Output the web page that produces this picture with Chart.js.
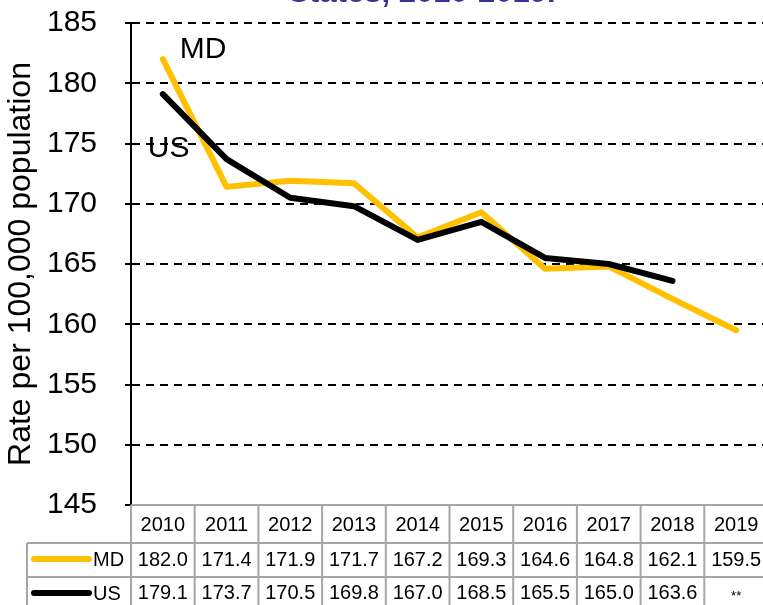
<!DOCTYPE html>
<html>
<head>
<meta charset="utf-8">
<script src="https://cdn.jsdelivr.net/npm/chart.js@4.4.1/dist/chart.umd.min.js"></script>
<style>
  html, body { margin: 0; padding: 0; overflow: hidden; background: #fff; }
  #wrap { position: relative; width: 768px; height: 605px; }
</style>
</head>
<body>
<div id="wrap"><canvas id="rateChart"></canvas></div>
<script>
// rates per 100,000 population
const years = ["2010", "2011", "2012", "2013", "2014", "2015", "2016", "2017", "2018", "2019"];
const mdRates = [182.0, 171.4, 171.9, 171.7, 167.2, 169.3, 164.6, 164.8, 162.1, 159.5];
const usRates = [179.1, 173.7, 170.5, 169.8, 167.0, 168.5, 165.5, 165.0, 163.6, null];
const yTicks = [145, 150, 155, 160, 165, 170, 175, 180, 185];

const titleText = "States, 2010-2019.";
const FONT = "'Liberation Sans', Arial, sans-serif";
const MD_COLOR = "#FFC000";
const US_COLOR = "#000000";
const TABLE_LINE = "#a6a6a6";

// title sits mostly above the canvas, only its bottom edge shows
const titlePlugin = {
    id: "topTitle",
    afterDraw(chart) {
        let ctx = chart.ctx;
        ctx.save();
        ctx.font = "bold 31px " + FONT;
        ctx.fillStyle = "#333399";
        ctx.textAlign = "center";
        ctx.textBaseline = "alphabetic";
        ctx.fillText(titleText, 422, 2);
        ctx.restore();
    }
};

// "MD" / "US" labels next to the first points
const seriesLabels = {
    id: "seriesLabels",
    afterDatasetsDraw(chart) {
        let ctx = chart.ctx;
        let x = chart.scales.x;
        let y = chart.scales.y;
        let x0 = x.getPixelForValue(0);
        ctx.save();
        ctx.font = "30px " + FONT;
        ctx.fillStyle = "#000";
        ctx.textBaseline = "alphabetic";
        ctx.textAlign = "left";
        ctx.fillText("MD", x0 + 17, y.getPixelForValue(mdRates[0]) - 1);
        ctx.fillText("US", x0 - 15, y.getPixelForValue(usRates[0]) + 63);
        ctx.restore();
    }
};

// data table under the plot
const dataTable = {
    id: "dataTable",
    afterDraw(chart) {
        let ctx = chart.ctx;
        let x = chart.scales.x;
        let area = chart.chartArea;
        let colW = (area.right - area.left) / years.length;
        let top = area.bottom;
        let rowTops = [top, 543, 577];
        let bottom = 620;
        let legendLeft = 27;

        ctx.save();
        ctx.strokeStyle = TABLE_LINE;
        ctx.lineWidth = 2;

        // horizontal rules
        ctx.beginPath();
        ctx.moveTo(area.left, top);
        ctx.lineTo(area.right, top);
        ctx.moveTo(legendLeft, rowTops[1]);
        ctx.lineTo(area.right, rowTops[1]);
        ctx.moveTo(legendLeft, rowTops[2]);
        ctx.lineTo(area.right, rowTops[2]);
        ctx.stroke();

        // vertical rules
        ctx.beginPath();
        for (let i = 0; i <= years.length; i++) {
            let cx = area.left + i * colW;
            ctx.moveTo(cx, top);
            ctx.lineTo(cx, bottom);
        }
        ctx.moveTo(legendLeft, rowTops[1]);
        ctx.lineTo(legendLeft, bottom);
        ctx.stroke();

        // cell text
        ctx.font = "20px " + FONT;
        ctx.fillStyle = "#000";
        ctx.textAlign = "center";
        ctx.textBaseline = "middle";
        years.forEach((yr, i) => {
            let cx = x.getPixelForValue(i);
            ctx.fillText(yr, cx, 525);
            ctx.fillText(mdRates[i].toFixed(1), cx, 560);
            if (usRates[i] === null) {
                ctx.font = "13px " + FONT;
                ctx.fillText("**", cx, 596);
                ctx.font = "20px " + FONT;
            } else {
                ctx.fillText(usRates[i].toFixed(1), cx, 593);
            }
        });

        // legend keys
        let keys = [["MD", MD_COLOR, 559], ["US", US_COLOR, 593]];
        keys.forEach(k => {
            ctx.strokeStyle = k[1];
            ctx.lineWidth = 6;
            ctx.lineCap = "round";
            ctx.beginPath();
            ctx.moveTo(34, k[2]);
            ctx.lineTo(89, k[2]);
            ctx.stroke();
            ctx.textAlign = "left";
            ctx.fillText(k[0], 93, k[2] + 1);
        });
        ctx.restore();
    }
};

new Chart(document.getElementById("rateChart"), {
    type: "line",
    data: {
        labels: years,
        datasets: [
            {
                label: "MD",
                data: mdRates,
                borderColor: MD_COLOR,
                borderWidth: 6,
                order: 1
            },
            {
                label: "US",
                data: usRates,
                borderColor: US_COLOR,
                borderWidth: 6,
                order: 0
            }
        ]
    },
    options: {
        responsive: true,
        maintainAspectRatio: false,
        animation: false,
        layout: { padding: { top: 23, bottom: 100, left: 0, right: 0 } },
        elements: {
            point: { radius: 0 },
            line: { tension: 0, borderCapStyle: "round", borderJoinStyle: "round" }
        },
        plugins: {
            legend: { display: false },
            tooltip: { enabled: false }
        },
        scales: {
            x: {
                type: "category",
                offset: true,
                display: false
            },
            y: {
                min: 145,
                max: 185,
                afterBuildTicks(scale) {
                    scale.ticks = yTicks.map(v => ({ value: v }));
                },
                afterFit(scale) {
                    scale.width = 131;
                    // tick labels may overhang the plot edges
                    scale.paddingTop = 0;
                    scale.paddingBottom = 0;
                },
                ticks: {
                    color: "#000",
                    padding: 28,
                    font: { family: FONT, size: 30 }
                },
                grid: {
                    color: ctx => (ctx.tick && ctx.tick.value === 145) ? "rgba(0,0,0,0)" : "#000",
                    lineWidth: 2,
                    tickLength: 6,
                    tickColor: "#000",
                    tickWidth: 2
                },
                border: {
                    display: true,
                    color: "#000",
                    width: 2,
                    dash: [8, 6]
                },
                title: {
                    display: true,
                    text: "Rate per 100,000 population",
                    color: "#000",
                    font: { family: FONT, size: 32 },
                    padding: { top: 2, bottom: 0 }
                }
            }
        }
    },
    plugins: [titlePlugin, seriesLabels, dataTable]
});
</script>
</body>
</html>
